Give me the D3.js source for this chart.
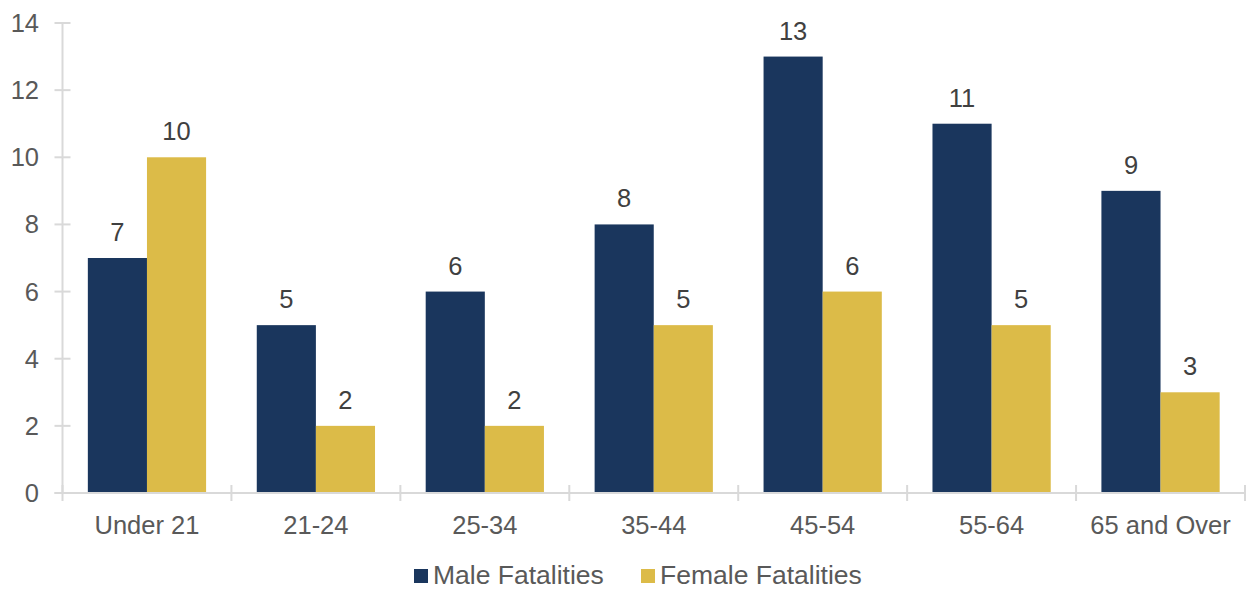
<!DOCTYPE html>
<html>
<head>
<meta charset="utf-8">
<script src="https://cdn.jsdelivr.net/npm/d3@7"></script>
<style>
  html, body { margin: 0; padding: 0; background: #fff; }
  svg { display: block; font-family: "Liberation Sans", Arial, sans-serif; }
</style>
</head>
<body>
<svg id="chart" width="1249" height="590"></svg>
<script>
// Fatalities by age group and sex
const categories = ["Under 21", "21-24", "25-34", "35-44", "45-54", "55-64", "65 and Over"];
const seriesNames = ["Male Fatalities", "Female Fatalities"];
const maleValues = [7, 5, 6, 8, 13, 11, 9];
const femaleValues = [10, 2, 2, 5, 6, 5, 3];
const yTicks = [0, 2, 4, 6, 8, 10, 12, 14];

const colors = { "Male Fatalities": "#1a365d", "Female Fatalities": "#dcbb48" };
const textColor = "#595959";
const axisColor = "#d9d9d9";
const fontSize = 25.5;
const legendFontSize = 26.5;

const rows = categories.map((c, i) => ({
  category: c,
  values: [
    { series: seriesNames[0], value: maleValues[i] },
    { series: seriesNames[1], value: femaleValues[i] }
  ]
}));

const svg = d3.select("#chart");
const plotLeft = 62.5, plotRight = 1245, plotTop = 23, plotBottom = 493;

const x0 = d3.scaleBand().domain(categories).range([plotLeft, plotRight])
  .paddingInner(0.3).paddingOuter(0.15);
const x1 = d3.scaleBand().domain(seriesNames).range([0, x0.bandwidth()]);
const y = d3.scaleLinear().domain([0, 14]).range([plotBottom, plotTop]);

// y axis line and ticks
const yAxis = svg.append("g");
yAxis.append("line")
  .attr("x1", plotLeft).attr("x2", plotLeft).attr("y1", plotTop).attr("y2", plotBottom)
  .attr("stroke", axisColor).attr("stroke-width", 2);
yAxis.selectAll("line.tick").data(yTicks).enter().append("line")
  .attr("class", "tick")
  .attr("x1", plotLeft - 8).attr("x2", plotLeft + 8)
  .attr("y1", d => y(d)).attr("y2", d => y(d))
  .attr("stroke", axisColor).attr("stroke-width", 2);
yAxis.selectAll("text").data(yTicks).enter().append("text")
  .attr("x", 39).attr("y", d => y(d) + 9)
  .attr("text-anchor", "end").attr("fill", textColor)
  .attr("font-size", fontSize).text(d => d);

// bars
const groups = svg.append("g").selectAll("g").data(rows).enter().append("g")
  .attr("transform", d => `translate(${x0(d.category)},0)`);
groups.selectAll("rect").data(d => d.values).enter().append("rect")
  .attr("x", d => x1(d.series)).attr("width", x1.bandwidth())
  .attr("y", d => y(d.value)).attr("height", d => y(0) - y(d.value))
  .attr("fill", d => colors[d.series]);
groups.selectAll("text").data(d => d.values).enter().append("text")
  .attr("x", d => x1(d.series) + x1.bandwidth() / 2)
  .attr("y", d => y(d.value) - 17)
  .attr("text-anchor", "middle").attr("fill", "#404040")
  .attr("font-size", fontSize).text(d => d.value);

// x axis line and ticks at category boundaries
const xAxis = svg.append("g");
xAxis.append("line")
  .attr("x1", plotLeft - 8).attr("x2", plotRight).attr("y1", plotBottom).attr("y2", plotBottom)
  .attr("stroke", axisColor).attr("stroke-width", 2);
const boundaries = categories.map(c => x0(c) - x0.step() * x0.paddingInner() / 2)
  .concat([plotRight]);
xAxis.selectAll("line.tick").data(boundaries).enter().append("line")
  .attr("class", "tick")
  .attr("x1", d => d).attr("x2", d => d)
  .attr("y1", plotBottom - 8).attr("y2", plotBottom + 8)
  .attr("stroke", axisColor).attr("stroke-width", 2);
xAxis.selectAll("text").data(categories).enter().append("text")
  .attr("x", d => x0(d) + x0.bandwidth() / 2).attr("y", 534)
  .attr("text-anchor", "middle").attr("fill", textColor)
  .attr("font-size", fontSize).text(d => d);

// legend
const legendX = [414, 641];
const legend = svg.append("g").selectAll("g").data(seriesNames).enter().append("g")
  .attr("transform", (d, i) => `translate(${legendX[i]},569)`);
legend.append("rect").attr("width", 14).attr("height", 14)
  .attr("fill", d => colors[d]);
legend.append("text").attr("x", 19).attr("y", 14.5)
  .attr("fill", textColor).attr("font-size", legendFontSize).text(d => d);
</script>
</body>
</html>
